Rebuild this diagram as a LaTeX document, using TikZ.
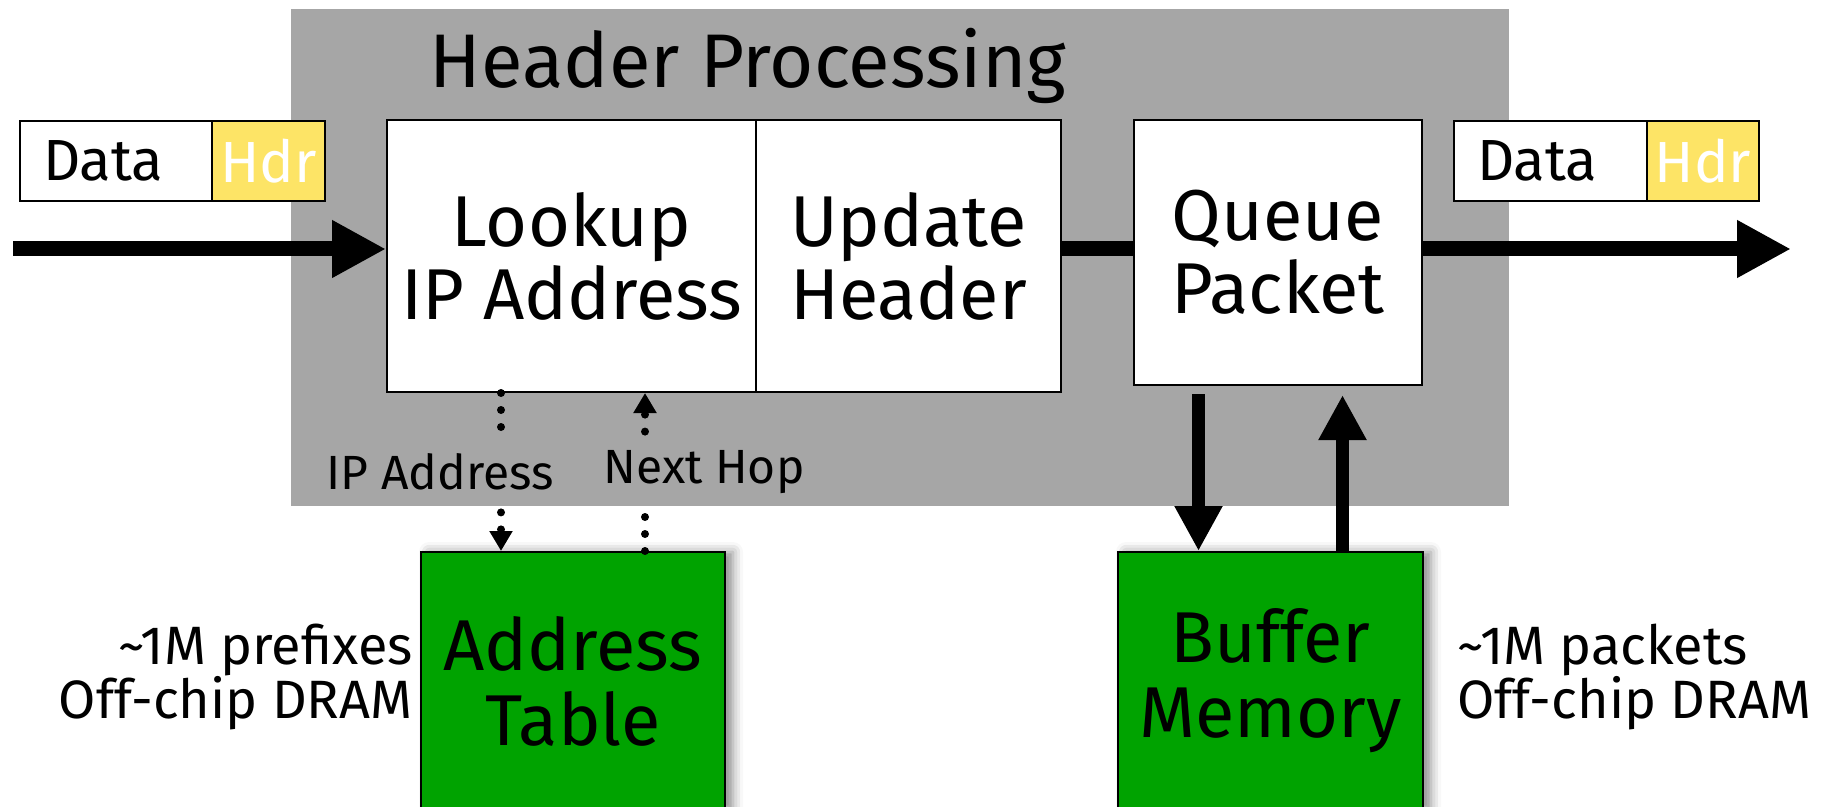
\documentclass[tikz,border=0pt]{standalone}
\usepackage{fontspec}
\setmainfont{Fira Sans}
\usepackage{tikz}
\usetikzlibrary{arrows.meta, positioning, shadows.blur}

\definecolor{procGray}{RGB}{166,166,166}
\definecolor{hdrYellow}{RGB}{253,228,102}
\definecolor{memGreen}{RGB}{0,163,0}

\begin{document}
\begin{tikzpicture}[x=0.5pt, y=-0.5pt,
  procBox/.style={fill=procGray, inner sep=0pt},
  stageBox/.style={draw=black, line width=1pt, fill=white, inner sep=0pt, align=center, font=\fontsize{36}{36.5}\selectfont},
  memBox/.style={draw=black, line width=1pt, fill=memGreen, inner sep=0pt, align=center, font=\fontsize{36}{37.5}\selectfont,
    blur shadow={shadow xshift=4pt, shadow yshift=0pt, shadow blur radius=5pt, shadow opacity=45}},
  dataTag/.style={draw=black, line width=1pt, fill=white, inner ysep=0pt, inner xsep=11.5pt, minimum height=40pt, font=\fontsize{29}{29}\selectfont},
  hdrTag/.style={draw=black, line width=1pt, fill=hdrYellow, text=white, inner sep=0pt, minimum height=40pt, font=\fontsize{29}{29}\selectfont},
  noteText/.style={inner sep=0pt, font=\fontsize{27}{27}\selectfont},
  hopLabel/.style={inner sep=0pt, minimum height=40pt, font=\fontsize{24}{24}\selectfont},
  fatArrow/.style={line width=7.5pt, -{Triangle[length=27pt, width=27pt]}},
  memArrow/.style={line width=6.5pt, -{Triangle[length=22.5pt, width=22.5pt]}},
  dotLine/.style={line width=4pt, line cap=round, dash pattern=on 0pt off 8.5pt}
]
\useasboundingbox (0,0) rectangle (1824,807);

%------------- Header Processing
	\node[procBox, minimum width=609pt, minimum height=248.5pt] (HP) at (900, 257.5) {};
	\node[inner sep=0pt, font=\fontsize{38}{38}\selectfont] (HP_Title) at (748, 66) {Header Processing};

	\node[stageBox, minimum width=184.5pt, minimum height=136pt] (HP_Lookup) at (571.5, 256) {Lookup\\IP Address};
	\node[stageBox, minimum width=152.5pt, minimum height=136pt] (HP_Update) at (908.5, 256) {Update\\Header};
	\node[stageBox, minimum width=144pt, minimum height=132.5pt] (HP_Queue) at (1278, 252.5) {Queue\\Packet};

%------------- Packets
	\node[dataTag, text width=73pt, align=left] (In_Data) at (116, 161) {Data};
	\node[hdrTag, minimum width=56.5pt] (In_Hdr) at (268.5, 161) {Hdr};
	\node[dataTag, text width=73.5pt, align=left] (Out_Data) at (1550.5, 161) {Data};
	\node[hdrTag, minimum width=56pt] (Out_Hdr) at (1703, 161) {Hdr};

	\coordinate (In_Start) at (13, 249);
	\coordinate (Out_End) at (1791, 249);

	\draw[fatArrow] (In_Start) -- (In_Start -| HP_Lookup.west);
	\draw[line width=7.5pt] (In_Start -| HP_Update.east) -- (In_Start -| HP_Queue.west);
	\draw[fatArrow] (In_Start -| HP_Queue.east) -- (Out_End);

%------------- Address Table
	\node[memBox, minimum width=152pt, minimum height=129pt] (AT) at (573, 681) {Address\\Table};
	\node[noteText, anchor=east, align=right] (AT_Note) at (413, 677) {\textasciitilde1M prefixes\\Off-chip DRAM};

	\node[hopLabel] (AT_IP_Label) at (440, 472) {IP Address};
	\node[hopLabel] (AT_Hop_Label) at (704, 472) {Next Hop};

	\coordinate (AT_IP) at ([xshift=-36pt]AT.north);
	\coordinate (AT_Hop) at ([xshift=36pt]AT.north);

	\draw[dotLine] (AT_IP |- HP_Lookup.south) -- (AT_IP |- AT_IP_Label.north);
	\draw[dotLine, -{Triangle[length=10pt, width=11pt]}] (AT_IP |- AT_IP_Label.south) -- (AT_IP);
	\draw[dotLine] (AT_Hop) -- (AT_Hop |- AT_Hop_Label.south);
	\draw[dotLine, -{Triangle[length=10pt, width=11pt]}] (AT_Hop |- AT_Hop_Label.north) -- (AT_Hop |- HP_Lookup.south);

%------------- Buffer Memory
	\node[memBox, minimum width=152.5pt, minimum height=129pt] (BM) at (1270.5, 681) {Buffer\\Memory};
	\node[noteText, anchor=west, align=left] (BM_Note) at (1457, 677) {\textasciitilde1M packets\\Off-chip DRAM};

	\draw[memArrow, shorten <=4pt] ([xshift=-36pt]BM.north |- HP_Queue.south) -- ([xshift=-36pt]BM.north);
	\draw[memArrow, shorten >=4.5pt] ([xshift=36pt]BM.north) -- ([xshift=36pt]BM.north |- HP_Queue.south);

\end{tikzpicture}
\end{document}
